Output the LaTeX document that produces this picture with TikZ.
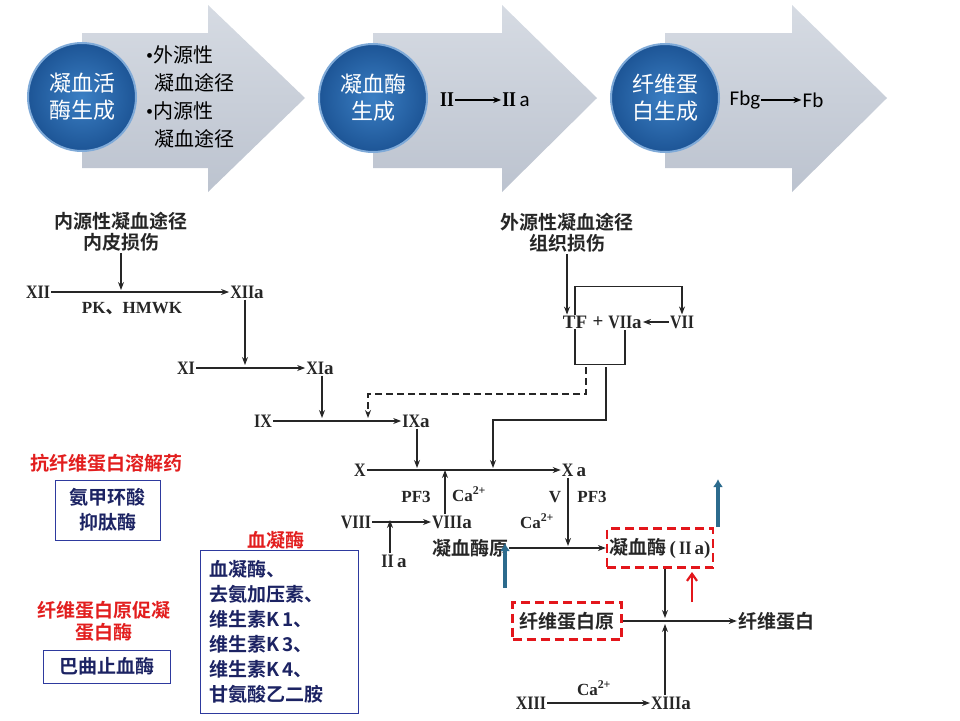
\documentclass[tikz,border=0pt]{standalone}
\usepackage{fontspec}
\setmainfont{Liberation Serif}
\newfontfamily\cjk{Noto Sans CJK SC}
\newfontfamily\cjkb{Noto Sans CJK SC Bold}
\newfontfamily\cali{Carlito}
\usetikzlibrary{positioning,arrows,arrows.meta,shapes,calc}

\definecolor{ink}{HTML}{262626}
\definecolor{navy}{HTML}{1C2363}
\definecolor{boxblue}{HTML}{2E3A9E}
\definecolor{drugred}{HTML}{E21E1E}
\definecolor{markred}{HTML}{E3161B}
\definecolor{hintblue}{HTML}{2C6B8D}
\definecolor{bandtop}{HTML}{D6DBE3}
\definecolor{bandbot}{HTML}{BCC3CF}
\definecolor{ballin}{HTML}{3B7FC4}
\definecolor{ballout}{HTML}{1D5596}
\definecolor{ballrim}{HTML}{7FAAD8}

% narrow bold roman numerals
\newcommand{\romn}[1]{\scalebox{0.84}[1]{\bfseries #1}}

\begin{document}
\begin{tikzpicture}[x=1pt,y=1pt,>={Stealth[length=8pt,width=6pt]}]
    \tikzstyle{every node}=[inner sep=1]
    \tikzstyle{fac}=[text=ink,font=\bfseries\fontsize{19}{19}\selectfont]
    \tikzstyle{lbl}=[text=ink,font=\bfseries\fontsize{17}{17}\selectfont]
    \tikzstyle{cn}=[text=ink,font=\cjkb\fontsize{19}{21}\selectfont,align=center]
    \tikzstyle{wire}=[draw=ink,line width=1.1]
    \tikzstyle{arr}=[wire,->]
    \tikzstyle{ball}=[circle,minimum size=108,inner sep=0,draw=ballrim,line width=2,inner color=ballin,outer color=ballout,text=white,font=\cjk\fontsize{22}{27}\selectfont,align=center]
    \tikzstyle{redt}=[text=drugred,font=\cjkb\fontsize{19}{22}\selectfont,align=center]
    \tikzstyle{drug}=[draw=boxblue,line width=0.9,text=navy,font=\cjkb\fontsize{19}{25}\selectfont]
    \tikzstyle{redbox}=[draw=markred,line width=2.2,dash pattern=on 9pt off 5pt]
    \tikzstyle{hint}=[draw=hintblue,line width=4,-{Latex[length=8pt,width=10pt]}]
    {
        \useasboundingbox (0,0) rectangle (960,-720);

        % banner
        \foreach \bx/\nx/\tx in {82/208/305, 373/502/597, 665/792/887}
            \shade[top color=bandtop,bottom color=bandbot] (\bx,-33) -- (\nx,-33) -- (\nx,-5) -- (\tx,-98) -- (\nx,-192) -- (\nx,-168) -- (\bx,-168) -- cycle;

        \node[ball] (s1) at (82,-97) {凝血活\\酶生成};
        \node[ball] (s2) at (373,-98) {凝血酶\\生成};
        \node[ball] (s3) at (665,-98) {纤维蛋\\白生成};

        \node[anchor=west,align=left,font=\cjk\fontsize{20}{28}\selectfont] (ways) at (145,-97)
            {{\rmfamily\textbullet}外源性\\\hspace*{8pt}凝血途径\\{\rmfamily\textbullet}内源性\\\hspace*{8pt}凝血途径};

        \node[font=\bfseries\fontsize{21}{21}\selectfont] (b2) at (447,-100) {\romn{II}};
        \node[font=\fontsize{21}{21}\selectfont] (b2a) at (516,-100) {\romn{II}\,{\cali a}};
        \draw[->,line width=2] (b2) -- (b2a);
        \node[font=\cali\fontsize{21}{21}\selectfont] (bfbg) at (745,-100) {Fbg};
        \node[font=\cali\fontsize{21}{21}\selectfont] (bfb) at (813,-100) {Fb};
        \draw[->,line width=2] (bfbg) -- (bfb);

        % intrinsic pathway
        \node[cn] (intr) at (121,-232) {内源性凝血途径\\内皮损伤};
        \node[fac] (f12) at (38,-292) {\romn{XII}};
        \node[fac] (f12a) at (247,-292) {\romn{XII}a};
        \coordinate (c12) at (121,-290);
        \draw[arr] (intr) -- (c12);
        \draw[arr] (f12) -- (f12a);
        \node[lbl] (pk) at (132,-309) {PK{\cjkb 、}HMWK};

        \node[fac] (f11) at (186,-368) {\romn{XI}};
        \node[fac] (f11a) at (320,-368) {\romn{XI}a};
        \coordinate (c11) at (245,-365);
        \draw[arr] (f12a.south -| c11) -- (c11);
        \draw[arr] (f11) -- (f11a);

        \node[fac] (f9) at (263,-421) {\romn{IX}};
        \node[fac] (f9a) at (416,-421) {\romn{IX}a};
        \coordinate (c9) at (322,-418);
        \draw[arr] (f11a.south -| c9) -- (c9);
        \draw[arr] (f9) -- (f9a);

        \node[fac] (f10) at (360,-470) {\romn{X}};
        \node[fac] (f10a) at (574,-470) {\romn{X}\,a};
        \draw[arr] (f10) -- (f10a);
        \coordinate (c10) at (417,-468);
        \draw[arr] (f9a.south -| c10) -- (c10);

        % extrinsic pathway
        \node[cn] (ext) at (567,-233) {外源性凝血途径\\组织损伤};
        \node[fac] (tf) at (575,-322) {TF};
        \node[fac] (plus) at (598,-322) {+};
        \node[fac] (f7a) at (625,-322) {\romn{VII}a};
        \node[fac] (f7) at (682,-322) {\romn{VII}};
        \draw[arr] (ext) -- (ext |- tf.north);
        \draw[arr] (tf.north) -- ++(0,28) -| (f7.north);
        \draw[arr] (f7) -- (f7a);
        \draw[wire] (tf.south) -- ++(0,-35) -| (f7a.south);

        \coordinate (dsh) at (586,-367);
        \coordinate (sol) at (606,-367);
        \coordinate (c9b) at (368,-418);
        \coordinate (c10b) at (493,-468);
        \draw[arr,dash pattern=on 7pt off 4pt] (dsh) -- ++(0,-27) -| (c9b);
        \draw[arr] (sol) -- ++(0,-53) -| (c10b);

        % common pathway
        \node[fac] (f8) at (356,-522) {\romn{VIII}};
        \node[fac] (f8a) at (452,-522) {\romn{VIII}a};
        \draw[arr] (f8) -- (f8a);
        \node[fac] (f2a) at (394,-561) {\romn{II}\,a};
        \coordinate (c8) at (390,-520);
        \draw[arr] (f2a.north -| c8) -- (c8);
        \coordinate (c10c) at (445,-470);
        \draw[arr] (f8a.north -| c10c) -- (c10c);
        \node[lbl] (pf3a) at (416,-497) {PF3};
        \node[lbl] (caa) at (469,-494) {Ca\textsuperscript{2+}};

        \coordinate (cpro) at (568,-546);
        \draw[arr] (f10a.south -| cpro) -- (cpro);
        \node[lbl] (fv) at (555,-497) {V};
        \node[lbl] (pf3b) at (592,-497) {PF3};
        \node[lbl] (cab) at (537,-521) {Ca\textsuperscript{2+}};

        \node[cn] (pro) at (470,-548) {凝血酶原};
        \node[cn,redbox,minimum width=106,minimum height=39] (thr) at (660,-548) {凝血酶{\rmfamily\bfseries\,(\,\romn{II}\,a)}};
        \draw[arr] (pro) -- (thr);

        \node[cn,redbox,minimum width=109,minimum height=37] (fbg) at (567,-621) {纤维蛋白原};
        \node[cn] (fib) at (776,-621) {纤维蛋白};
        \draw[arr] (fbg) -- (fib);
        \coordinate (cfa) at (665,-618);
        \coordinate (cfb) at (665,-624);
        \draw[arr] (thr.south -| cfa) -- (cfa);

        \node[fac] (f13) at (531,-703) {\romn{XIII}};
        \node[fac] (f13a) at (671,-703) {\romn{XIII}a};
        \draw[arr] (f13) -- (f13a);
        \node[lbl] (cac) at (594,-688) {Ca\textsuperscript{2+}};
        \draw[arr] (f13a.north -| cfb) -- (cfb);

        % pointers
        \coordinate (h1a) at (718,-527);
        \coordinate (h1b) at (718,-479);
        \coordinate (h2a) at (505,-588);
        \coordinate (h2b) at (505,-543);
        \coordinate (h3a) at (692,-602);
        \coordinate (h3b) at (692,-572);
        \draw[hint] (h1a) -- (h1b);
        \draw[hint] (h2a) -- (h2b);
        \draw[hint,draw=markred,line width=2.2,-{Straight Barb[length=7pt,width=10pt]}] (h3a) -- (h3b);

        % drugs
        \node[redt] (anti) at (106,-463) {抗纤维蛋白溶解药};
        \node[drug,minimum width=105,minimum height=60,align=center] (d1) at (107.5,-510) {氨甲环酸\\抑肽酶};
        \node[redt] (procoag) at (104,-621) {纤维蛋白原促凝\\蛋白酶};
        \node[drug,minimum width=127,minimum height=33] (d2) at (106.5,-666.5) {巴曲止血酶};
        \node[redt] (hemo) at (276,-540) {血凝酶};
        \node[drug,minimum width=158,minimum height=163,text width=140,align=left] (d3) at (279,-631.5)
            {血凝酶、\\去氨加压素、\\维生素K\,1、\\维生素K\,3、\\维生素K\,4、\\甘氨酸乙二胺};
    }
\end{tikzpicture}
\end{document}
